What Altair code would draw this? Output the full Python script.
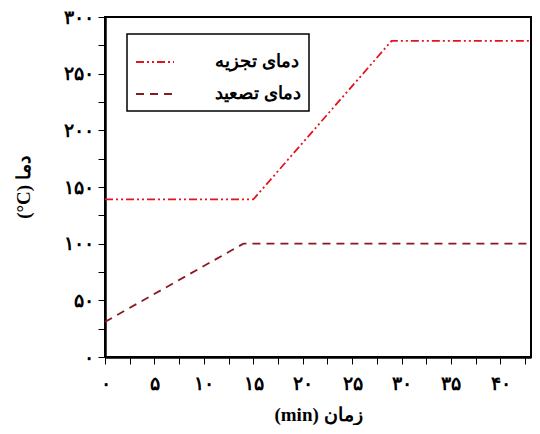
import altair as alt
import pandas as pd

# series data
decomp_x = [0, 15, 29, 43.1]
decomp_y = [139, 139, 279, 279]
sublim_x = [0, 14, 43.1]
sublim_y = [31, 100, 100]
series_names = ["دمای تجزیه", "دمای تصعید"]
series_colors = ["#e3141f", "#8a1a22"]
series_dash = [[8, 3, 2, 3, 2, 3], [8, 6]]

x_ticks = [0, 2.5, 5, 7.5, 10, 12.5, 15, 17.5, 20, 22.5, 25, 27.5, 30, 32.5, 35, 37.5, 40, 42.5]
x_labels = ["۰", "", "۵", "", "۱۰", "", "۱۵", "", "۲۰", "", "۲۵", "", "۳۰", "", "۳۵", "", "۴۰", ""]
y_ticks = [0, 25, 50, 75, 100, 125, 150, 175, 200, 225, 250, 275, 300]
y_labels = ["۰", "", "۵۰", "", "۱۰۰", "", "۱۵۰", "", "۲۰۰", "", "۲۵۰", "", "۳۰۰"]

rows = []
for x, y in zip(decomp_x, decomp_y):
    rows.append({"t": x, "T": y, "s": series_names[0]})
for x, y in zip(sublim_x, sublim_y):
    rows.append({"t": x, "T": y, "s": series_names[1]})
df = pd.DataFrame(rows)


def label_expr(vals, labs):
    expr = "''"
    for v, l in reversed(list(zip(vals, labs))):
        expr = f"datum.value == {v} ? '{l}' : ({expr})"
    return expr


FONT = "Liberation Serif"

chart = alt.Chart(df).mark_line(strokeWidth=1.8).encode(
    x=alt.X("t:Q",
            scale=alt.Scale(domain=[0, 43.1], nice=False, zero=False),
            axis=alt.Axis(values=x_ticks, labelExpr=label_expr(x_ticks, x_labels),
                          title="(min) زمان", grid=False, labelOverlap=False,
                          labelFlush=False)),
    y=alt.Y("T:Q",
            scale=alt.Scale(domain=[0, 300], nice=False),
            axis=alt.Axis(values=y_ticks, labelExpr=label_expr(y_ticks, y_labels),
                          title="(°C) دما", grid=False, labelOverlap=False,
                          labelFlush=False)),
    color=alt.Color("s:N", sort=series_names,
                    scale=alt.Scale(domain=series_names, range=series_colors),
                    legend=alt.Legend(title=None, orient="none", legendX=22, legendY=17,
                                      symbolType="stroke", symbolSize=1444,
                                      symbolStrokeWidth=2, labelOffset=40,
                                      padding=8, rowPadding=3,
                                      labelFont=FONT, labelFontSize=18,
                                      labelFontWeight="bold", labelColor="black")),
    strokeDash=alt.StrokeDash("s:N", sort=series_names,
                              scale=alt.Scale(domain=series_names, range=series_dash),
                              legend=None),
    order="t:Q",
    detail="s:N",
).properties(
    width=426, height=340,
    autosize=alt.AutoSizeParams(type="none"),
    padding={"left": 97, "top": 9, "right": 1, "bottom": 68},
).configure_view(
    stroke="black", strokeWidth=2
).configure_axis(
    domainColor="black", domainWidth=2.5, tickColor="black", tickSize=7,
    tickWidth=1, labelFont=FONT, labelFontSize=19, labelFontWeight="bold",
    labelColor="black", titleFont=FONT, titleFontSize=19, titleFontWeight="bold",
    titleColor="black"
).configure_axisX(
    labelPadding=10, titlePadding=12
).configure_axisY(
    labelPadding=5, titlePadding=30
).configure_legend(
    strokeColor="black", strokeWidth=1.5, fillColor="white"
)

chart.save("out.html", embed_options={"renderer": "svg", "actions": False})
